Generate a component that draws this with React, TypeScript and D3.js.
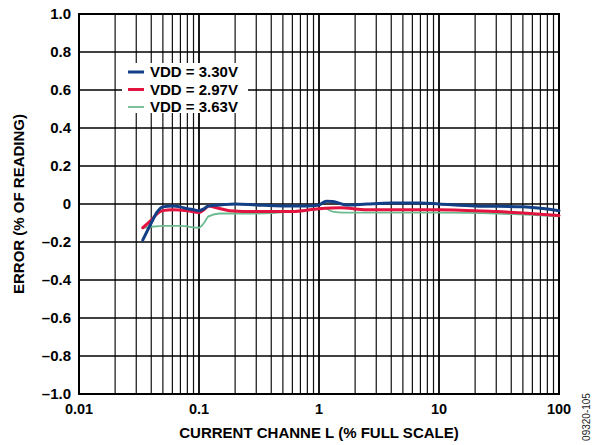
import { useEffect, useRef } from 'react';
import * as d3 from 'd3';

// Readings (% full scale, % error) taken from the figure
const blueX = [0.034, 0.04, 0.045, 0.05, 0.06, 0.07, 0.08, 0.09, 0.1, 0.11, 0.12, 0.15, 0.2, 0.3, 0.5, 0.8, 1.0, 1.15, 1.3, 1.7, 2.5, 4, 7, 10, 20, 50, 100];
const blueY = [-0.19, -0.1, -0.04, -0.015, -0.01, -0.015, -0.025, -0.03, -0.035, -0.025, -0.01, -0.005, 0.0, -0.005, -0.01, -0.01, -0.005, 0.015, 0.013, -0.005, 0.0, 0.005, 0.005, 0.0, -0.01, -0.015, -0.035];

const redX = [0.034, 0.04, 0.045, 0.05, 0.06, 0.08, 0.1, 0.11, 0.12, 0.14, 0.18, 0.3, 0.6, 1.0, 1.5, 2.5, 10, 30, 100];
const redY = [-0.125, -0.085, -0.05, -0.035, -0.03, -0.035, -0.045, -0.03, -0.01, -0.02, -0.035, -0.04, -0.04, -0.025, -0.02, -0.03, -0.03, -0.04, -0.06];

const greenX = [0.034, 0.04, 0.05, 0.07, 0.1, 0.11, 0.12, 0.15, 0.3, 0.6, 1.0, 1.1, 1.3, 1.6, 5, 10, 30, 100];
const greenY = [-0.125, -0.12, -0.115, -0.115, -0.125, -0.1, -0.065, -0.05, -0.05, -0.04, -0.025, -0.02, -0.04, -0.045, -0.045, -0.045, -0.05, -0.065];

const seriesNames = ['VDD = 3.30V', 'VDD = 2.97V', 'VDD = 3.63V'];
const seriesColors = ['#123f85', '#e3143f', '#6cbb90'];
const seriesWidths = [3, 3, 1.8];

const xTickValues = [0.01, 0.1, 1, 10, 100];
const xTickLabels = ['0.01', '0.1', '1', '10', '100'];
const yTickValues = [1.0, 0.8, 0.6, 0.4, 0.2, 0, -0.2, -0.4, -0.6, -0.8, -1.0];
const yTickLabels = ['1.0', '0.8', '0.6', '0.4', '0.2', '0', '–0.2', '–0.4', '–0.6', '–0.8', '–1.0'];

const W = 598;
const H = 445;
const margin = { left: 79, right: 39, top: 14, bottom: 51 };
const FONT = 'Liberation Sans, Arial, Helvetica, sans-serif';

const App = () => {
  const svgRef = useRef<SVGSVGElement>(null);

  useEffect(() => {
    if (!svgRef.current) return;
    const svg = d3.select(svgRef.current);
    svg.selectAll('*').remove();

    const x = d3.scaleLog().domain([0.01, 100]).range([margin.left, W - margin.right]);
    const y = d3.scaleLinear().domain([-1, 1]).range([H - margin.bottom, margin.top]);

    const grid = svg.append('g');

    // vertical grid (1..9 per decade)
    const minor: number[] = [];
    [0.01, 0.1, 1, 10].forEach((d) => {
      for (let k = 2; k <= 9; k++) minor.push(d * k);
    });
    grid
      .selectAll('line.minor')
      .data(minor)
      .join('line')
      .attr('x1', (d) => x(d))
      .attr('x2', (d) => x(d))
      .attr('y1', y(1))
      .attr('y2', y(-1))
      .attr('stroke', '#111')
      .attr('stroke-width', 1.2);

    grid
      .selectAll('line.major')
      .data([0.1, 1, 10])
      .join('line')
      .attr('x1', (d) => x(d))
      .attr('x2', (d) => x(d))
      .attr('y1', y(1))
      .attr('y2', y(-1))
      .attr('stroke', '#000')
      .attr('stroke-width', 1.8);

    grid
      .selectAll('line.h')
      .data(yTickValues)
      .join('line')
      .attr('x1', x(0.01))
      .attr('x2', x(100))
      .attr('y1', (d) => y(d))
      .attr('y2', (d) => y(d))
      .attr('stroke', '#000')
      .attr('stroke-width', 1.3);

    // legend background hides the grid
    svg
      .append('rect')
      .attr('x', 122)
      .attr('y', 63)
      .attr('width', 126)
      .attr('height', 50)
      .attr('fill', '#fff');

    // frame
    svg
      .append('rect')
      .attr('x', x(0.01))
      .attr('y', y(1))
      .attr('width', x(100) - x(0.01))
      .attr('height', y(-1) - y(1))
      .attr('fill', 'none')
      .attr('stroke', '#000')
      .attr('stroke-width', 2);

    const line = d3
      .line<[number, number]>()
      .x((d) => x(d[0]))
      .y((d) => y(d[1]))
      .curve(d3.curveMonotoneX);

    const series: [number, number][][] = [
      blueX.map((v, i) => [v, blueY[i]]),
      redX.map((v, i) => [v, redY[i]]),
      greenX.map((v, i) => [v, greenY[i]]),
    ];

    // draw green, red, then blue on top
    [2, 1, 0].forEach((i) => {
      svg
        .append('path')
        .attr('d', line(series[i]) || '')
        .attr('fill', 'none')
        .attr('stroke', seriesColors[i])
        .attr('stroke-width', seriesWidths[i])
        .attr('stroke-linejoin', 'round')
        .attr('stroke-linecap', 'round');
    });

    // legend
    const legend = svg.append('g');
    seriesNames.forEach((name, i) => {
      const ly = 72 + i * 17.5;
      legend
        .append('line')
        .attr('x1', 128)
        .attr('x2', 144)
        .attr('y1', ly)
        .attr('y2', ly)
        .attr('stroke', seriesColors[i])
        .attr('stroke-width', seriesWidths[i]);
      legend
        .append('text')
        .attr('x', 150)
        .attr('y', ly + 5)
        .attr('font-family', FONT)
        .attr('font-weight', 'bold')
        .attr('font-size', '15px')
        .attr('fill', '#000')
        .text(name);
    });

    // tick labels
    svg
      .selectAll('text.xt')
      .data(xTickValues)
      .join('text')
      .attr('x', (d) => x(d))
      .attr('y', 414)
      .attr('text-anchor', 'middle')
      .attr('font-family', FONT)
      .attr('font-weight', 'bold')
      .attr('font-size', '14.5px')
      .text((d, i) => xTickLabels[i]);

    svg
      .selectAll('text.yt')
      .data(yTickValues)
      .join('text')
      .attr('x', 71)
      .attr('y', (d) => y(d) + 5)
      .attr('text-anchor', 'end')
      .attr('font-family', FONT)
      .attr('font-weight', 'bold')
      .attr('font-size', '15px')
      .text((d, i) => yTickLabels[i]);

    // axis titles
    svg
      .append('text')
      .attr('x', (x(0.01) + x(100)) / 2)
      .attr('y', 438)
      .attr('text-anchor', 'middle')
      .attr('font-family', FONT)
      .attr('font-weight', 'bold')
      .attr('font-size', '15px')
      .text('CURRENT CHANNE L (% FULL SCALE)');

    svg
      .append('text')
      .attr('transform', `translate(24, ${(y(1) + y(-1)) / 2}) rotate(-90)`)
      .attr('text-anchor', 'middle')
      .attr('font-family', FONT)
      .attr('font-weight', 'bold')
      .attr('font-size', '15px')
      .text('ERROR (% OF READING)');

    svg
      .append('text')
      .attr('transform', `translate(590, 417) rotate(-90)`)
      .attr('text-anchor', 'middle')
      .attr('font-family', FONT)
      .attr('font-size', '10px')
      .attr('fill', '#222')
      .text('09320-105');
  }, []);

  return (
    <div style={{ position: 'absolute', left: 0, top: 0, background: '#fff' }}>
      <svg ref={svgRef} width={W} height={H} />
    </div>
  );
};

export default App;
